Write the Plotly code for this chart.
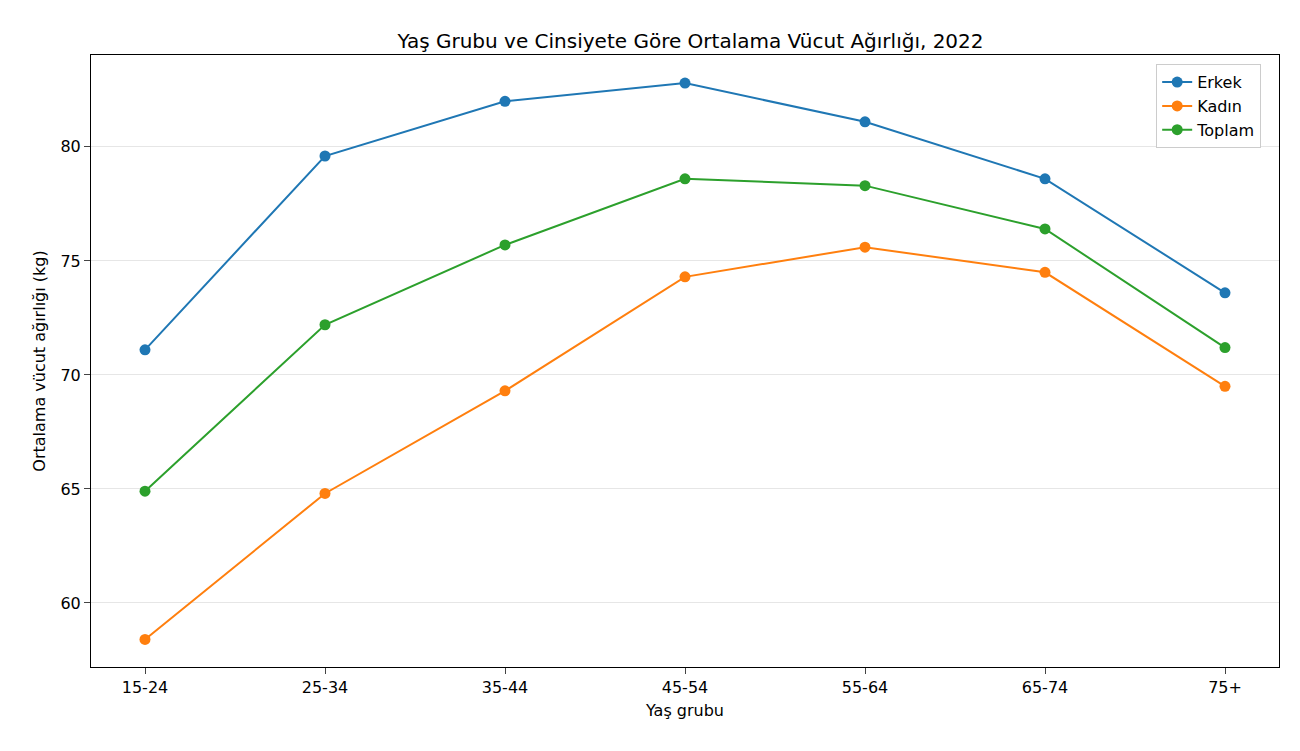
import plotly.graph_objects as go

categories = ["15-24", "25-34", "35-44", "45-54", "55-64", "65-74", "75+"]
erkek = [71.1, 79.6, 82.0, 82.8, 81.1, 78.6, 73.6]
kadin = [58.4, 64.8, 69.3, 74.3, 75.6, 74.5, 69.5]
toplam = [64.9, 72.2, 75.7, 78.6, 78.3, 76.4, 71.2]

series = [("Erkek", erkek, "#1f77b4"), ("Kadın", kadin, "#ff7f0e"), ("Toplam", toplam, "#2ca02c")]
x = list(range(len(categories)))
fig = go.Figure()
for name, vals, col in series:
    fig.add_trace(go.Scatter(x=x, y=vals, name=name, mode="lines+markers",
                             line=dict(color=col, width=2), marker=dict(size=11, color=col)))

fig.update_layout(
    width=1300, height=751, plot_bgcolor="white", paper_bgcolor="white",
    font=dict(family="DejaVu Sans", size=16, color="black"),
    title=dict(text="Yaş Grubu ve Cinsiyete Göre Ortalama Vücut Ağırlığı, 2022", x=0.525, xanchor="center", y=0.965, font=dict(size=20)),
    margin=dict(l=83, r=29, t=47, b=92),
    legend=dict(x=0.985, y=0.985, xanchor="right", yanchor="top", bordercolor="#cccccc", borderwidth=1, font=dict(size=16)),
    showlegend=True,
)
fig.update_xaxes(tickvals=x, ticktext=categories, range=[-0.3, 6.3], showgrid=False,
                 showline=True, linecolor="black", mirror=True, ticks="outside", ticklen=6,
                 tickfont=dict(size=16),
                 title=dict(text="Yaş grubu", standoff=8, font=dict(size=16)), zeroline=False)
fig.update_yaxes(range=[57.19, 84.03], tickvals=[60, 65, 70, 75, 80], showgrid=True, gridcolor="#e6e6e6",
                 showline=True, linecolor="black", mirror=True, ticks="outside", ticklen=6,
                 tickfont=dict(size=16),
                 title=dict(text="Ortalama vücut ağırlığı (kg)", standoff=10, font=dict(size=16)), zeroline=False)
fig.write_html("out.html")
